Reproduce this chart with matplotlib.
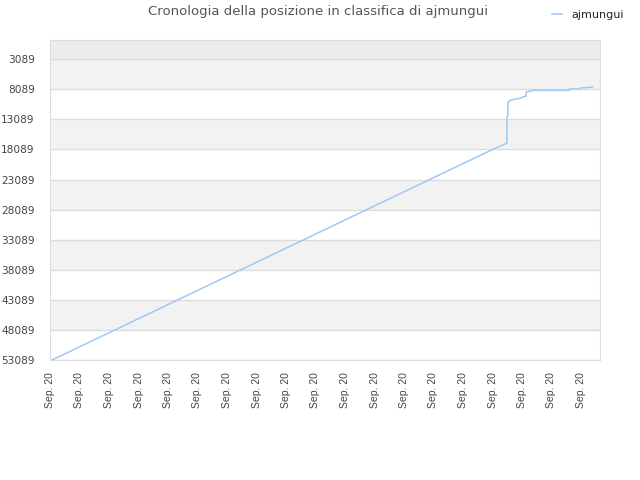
import numpy as np
import matplotlib
matplotlib.use("Agg")
from matplotlib import pyplot as plt

# rank history (x in tick units, one tick = one label)
rank_x = [0.07, 1.0, 2.0, 3.0, 4.0, 5.0, 6.0, 7.0, 8.0, 9.0, 10.0, 11.0, 12.0,
          13.0, 14.0, 15.0, 15.49, 15.49, 15.52, 15.52, 15.6, 15.75, 15.95,
          16.1, 16.14, 16.14, 16.4, 17.6, 17.6, 17.95, 18.0, 18.3, 18.4]
rank_y = [53089, 50900, 48560, 46220, 43870, 41530, 39190, 36840, 34500,
          32160, 29810, 27470, 25130, 22780, 20440, 18100, 17040, 12700,
          12500, 10260, 9920, 9760, 9540, 9260, 9260, 8540, 8260, 8260,
          8040, 8040, 7860, 7760, 7680]

y_ticks = [3089, 8089, 13089, 18089, 23089, 28089, 33089, 38089, 43089, 48089, 53089]
x_labels = ["Sep. 20"] * 19
series_name = "ajmungui"
title = "Cronologia della posizione in classifica di ajmungui"

fig = plt.figure(figsize=(6.4, 4.8), dpi=100)
ax = fig.add_axes([50/640, 1 - 360/480, 550/640, 320/480])

y_top = -110
y_bot = 53089
ax.set_ylim(y_bot, y_top)
ax.set_xlim(0, 550/29.5)

# background bands
ax.axhspan(y_top, y_ticks[0], color="#ececec", lw=0, zorder=0)
for i in range(len(y_ticks) - 1):
    c = "#f2f2f2" if i % 2 == 0 else "white"
    ax.axhspan(y_ticks[i], y_ticks[i+1], color=c, lw=0, zorder=0)
for t in y_ticks:
    ax.axhline(t, color="#dddddd", lw=1, zorder=1)

ax.plot(rank_x, rank_y, color="#9ec9f5", lw=1.1, zorder=3, label=series_name)

ax.set_yticks(y_ticks)
ax.set_yticklabels([str(t) for t in y_ticks], fontsize=7.6, color="#444444")
ax.set_xticks(np.arange(len(x_labels)))
ax.set_xticklabels(x_labels, rotation=90, fontsize=7.5, color="#444444",
                   family="Liberation Sans")
ax.tick_params(length=0)
ax.tick_params(axis="y", pad=11)
ax.tick_params(axis="x", pad=9)
for s in ax.spines.values():
    s.set_color("#dddddd")

fig.text(318/640, 1 - 12/480, title, ha="center", va="center", fontsize=9.5, color="#555555")
leg = fig.legend(loc="center right", bbox_to_anchor=(624/640, 1 - 15/480), frameon=False,
                 handlelength=0.9, handletextpad=0.9, borderpad=0, borderaxespad=0,
                 prop={"family": "DejaVu Sans", "size": 8})
for t in leg.get_texts():
    t.set_color("#222222")

fig.savefig("out.png", dpi=100)
